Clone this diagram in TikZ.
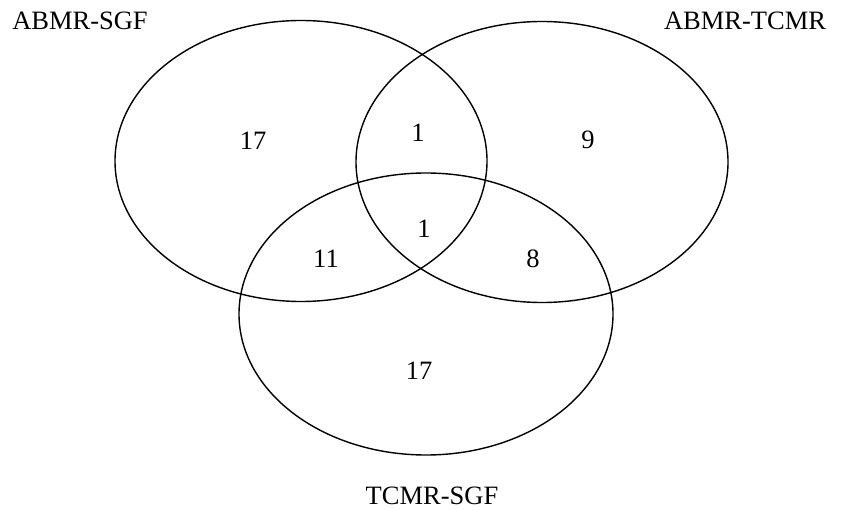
\documentclass[tikz,border=0pt]{standalone}
\usepackage{fontspec}
\setmainfont{Liberation Serif}
\begin{document}
\begin{tikzpicture}[x=1pt,y=-1pt,
  setline/.style={draw=black,line width=1.4pt},
  lab/.style={font=\fontsize{26.5}{30}\selectfont,inner sep=0pt}]
\useasboundingbox[fill=white] (0,0) rectangle (846,510);
\draw[setline] (301,161) ellipse [x radius=186, y radius=140.5];
\draw[setline] (542,162) ellipse [x radius=186, y radius=140.5];
\draw[setline] (426,314) ellipse [x radius=187, y radius=141];
\node[lab] (tA) at (80,21) {ABMR-SGF};
\node[lab] (tB) at (745,21) {ABMR-TCMR};
\node[lab] (tC) at (432,496) {TCMR-SGF};
\node[lab] (n1) at (253,141) {17};
\node[lab] (n2) at (418,133) {1};
\node[lab] (n3) at (588,140) {9};
\node[lab] (n4) at (424,229) {1};
\node[lab] (n5) at (326,259) {11};
\node[lab] (n6) at (533,259) {8};
\node[lab] (n7) at (419,371) {17};
\end{tikzpicture}
\end{document}
